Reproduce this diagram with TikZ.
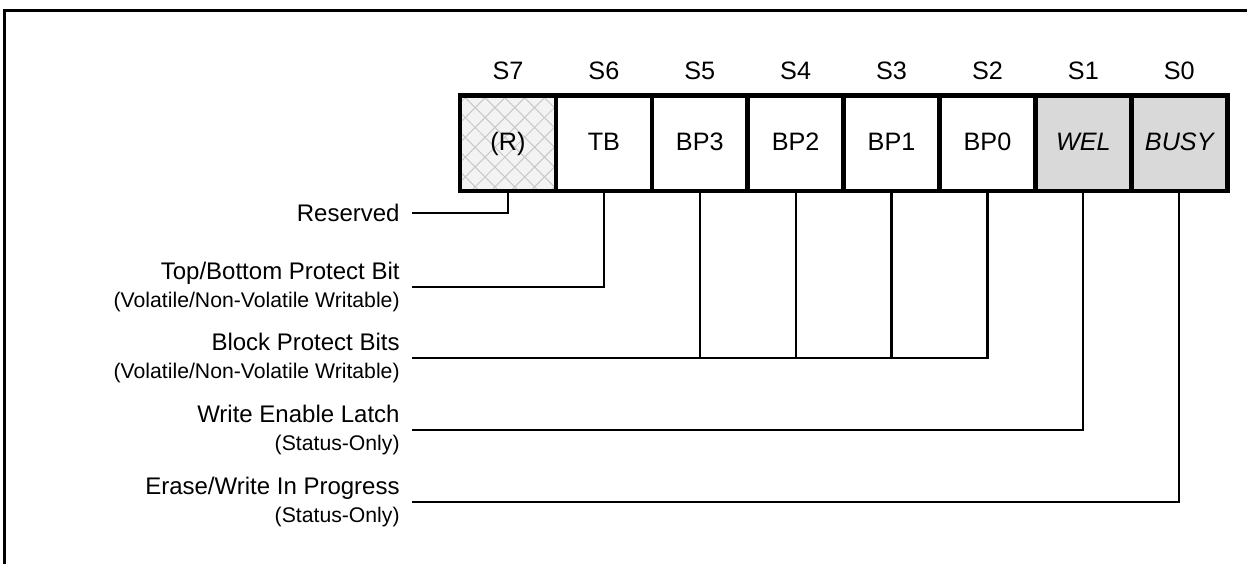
\documentclass[tikz,border=0pt]{standalone}
\usepackage{fontspec}
\setmainfont{Liberation Sans}
\usetikzlibrary{positioning,patterns.meta}
\definecolor{tinta}{HTML}{000000}
\definecolor{gris}{HTML}{D9D9D9}
\definecolor{tramafondo}{HTML}{F3F3F3}
\definecolor{trama}{HTML}{C8C8C8}
\tikzset{
  celda/.style={draw=tinta,line width=2.3pt,fill=white,minimum width=47.95pt,minimum height=47.75pt,inner sep=0pt,outer sep=0pt,text height=9pt,text depth=1.5pt,font=\fontsize{12.6}{14}\selectfont},
  celdaest/.style={celda,fill=gris,font=\fontsize{12.6}{14}\selectfont\itshape},
  celdares/.style={celda,preaction={fill=tramafondo},preaction={pattern={Lines[angle=45,distance=7pt,line width=0.5pt]},pattern color=trama},pattern={Lines[angle=-45,distance=7pt,line width=0.5pt]},pattern color=trama},
  bitnum/.style={font=\fontsize{12.6}{14}\selectfont,inner sep=0pt,text height=9pt,text depth=0pt},
  rotulo/.style={anchor=east,align=right,inner xsep=6pt,inner ysep=0pt,font=\fontsize{12}{14}\selectfont},
  linea/.style={draw=tinta,line width=1.1pt},
  marco/.style={draw=tinta,line width=1.5pt},
}
\newcommand{\nota}{\fontsize{10.6}{11.5}\selectfont}

\begin{document}
\begin{tikzpicture}[x=0.5pt,y=-0.5pt]
\useasboundingbox (0,0) rectangle (1247,563);
\clip (0,0) rectangle (1247,563);
\draw[marco] (4.5,10.5) rectangle (1262,580);
% register cells
\coordinate (c7) at (507.95,143.25);
\coordinate (c6) at (603.85,143.25);
\coordinate (c5) at (699.75,143.25);
\coordinate (c4) at (795.65,143.25);
\coordinate (c3) at (891.55,143.25);
\coordinate (c2) at (987.45,143.25);
\coordinate (c1) at (1083.35,143.25);
\coordinate (c0) at (1179.25,143.25);
% label lines
\node[rotulo] (rres) at (412,213) {Reserved};
\node[rotulo] (rtb) at (412,287) {Top/Bottom Protect Bit\\{\nota (Volatile/Non-Volatile Writable)}};
\node[rotulo] (rbp) at (412,358) {Block Protect Bits\\{\nota (Volatile/Non-Volatile Writable)}};
\node[rotulo] (rwel) at (412,430) {Write Enable Latch\\{\nota (Status-Only)}};
\node[rotulo] (rbusy) at (412,502) {Erase/Write In Progress\\{\nota (Status-Only)}};
\draw[linea] (c7) |- (rres.east);
\draw[linea] (c6) |- (rtb.east);
\draw[linea] (c5) |- (rbp.east);
\draw[linea] (c4) |- (rbp.east);
\draw[linea] (c3) |- (rbp.east);
\draw[linea] (c2) |- (rbp.east);
\draw[linea] (c1) |- (rwel.east);
\draw[linea] (c0) |- (rbusy.east);
\node[celdares] (s7) at (c7) {(R)};
\node[celda] (s6) at (c6) {TB};
\node[celda] (s5) at (c5) {BP3};
\node[celda] (s4) at (c4) {BP2};
\node[celda] (s3) at (c3) {BP1};
\node[celda] (s2) at (c2) {BP0};
\node[celdaest] (s1) at (c1) {WEL};
\node[celdaest] (s0) at (c0) {BUSY};
\node[bitnum] at (507.95,70) {S7};
\node[bitnum] at (603.85,70) {S6};
\node[bitnum] at (699.75,70) {S5};
\node[bitnum] at (795.65,70) {S4};
\node[bitnum] at (891.55,70) {S3};
\node[bitnum] at (987.45,70) {S2};
\node[bitnum] at (1083.35,70) {S1};
\node[bitnum] at (1179.25,70) {S0};
\end{tikzpicture}
\end{document}
